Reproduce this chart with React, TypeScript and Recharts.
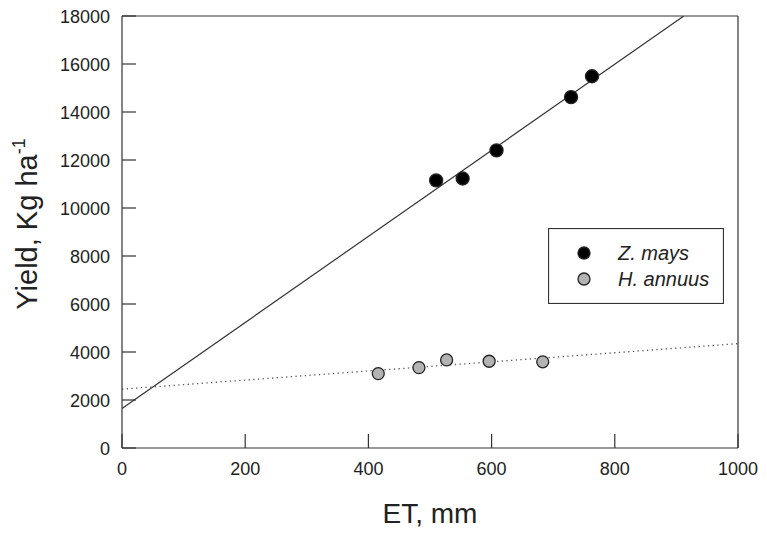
import {
  ComposedChart,
  Label,
  Legend,
  Line,
  ReferenceLine,
  Scatter,
  XAxis,
  YAxis,
} from 'recharts'

const FONT = '"Liberation Sans", Arial, sans-serif'
const INK = '#222'

const xTicks = [0, 200, 400, 600, 800, 1000]
const yTicks = [0, 2000, 4000, 6000, 8000, 10000, 12000, 14000, 16000, 18000]
const legendOrder = ['Z. mays', 'H. annuus']

// Z. mays
const maize = [
  { x: 510, y: 11150 },
  { x: 553, y: 11230 },
  { x: 608, y: 12400 },
  { x: 729, y: 14620 },
  { x: 763, y: 15490 },
]
// H. annuus
const sunflower = [
  { x: 416, y: 3100 },
  { x: 482, y: 3350 },
  { x: 527, y: 3670 },
  { x: 596, y: 3615 },
  { x: 683, y: 3590 },
]
// fitted lines, end points
const maizeFit = [
  { x: 0, y: 1645 },
  { x: 912, y: 18000 },
]
const sunflowerFit = [
  { x: 0, y: 2450 },
  { x: 1000, y: 4350 },
]

// ticks point inward (negative tickSize); labels drawn here
const XTick = ({ x, y, payload }: any) => (
  <text x={x} y={y + 6.5} textAnchor="middle" fontSize={18} fontFamily={FONT} fill={INK}>
    {payload.value}
  </text>
)

const YTick = ({ x, y, payload }: any) => (
  <text x={x} y={y + 6.5} textAnchor="end" fontSize={18} fontFamily={FONT} fill={INK}>
    {payload.value}
  </text>
)

const Dot = ({ cx, cy, fill }: any) => (
  <circle cx={cx} cy={cy} r={fill === '#000' ? 6.5 : 6} fill={fill} stroke="#222" strokeWidth={1.3} />
)

const LegendBox = ({ payload }: any) => {
  const items = (payload || [])
    .filter((p: any) => legendOrder.includes(p.value))
    .sort((a: any, b: any) => legendOrder.indexOf(a.value) - legendOrder.indexOf(b.value))
  return (
    <svg width={176} height={76} style={{ display: 'block' }}>
      <rect x={0.5} y={0.5} width={175} height={75} fill="#fff" stroke="#333" strokeWidth={1.2} />
      {items.map((p: any, i: number) => (
        <g key={p.value}>
          <circle cx={36} cy={25 + i * 26} r={6} fill={p.color} stroke="#222" strokeWidth={1.3} />
          <text
            x={70}
            y={32 + i * 26}
            fontSize={20}
            fontStyle="italic"
            fontFamily={FONT}
            fill={INK}
          >
            {p.value}
          </text>
        </g>
      ))}
    </svg>
  )
}

export default function App() {
  return (
    <div style={{ position: 'absolute', left: 0, top: 0, width: 767, height: 535, background: '#fff' }}>
      <ComposedChart width={767} height={535} margin={{ top: 16, right: 29, bottom: 0, left: 0 }}>
        <XAxis
          type="number"
          dataKey="x"
          domain={[0, 1000]}
          ticks={xTicks}
          height={87}
          tickSize={-14}
          tickMargin={34}
          tick={XTick}
          tickLine={{ stroke: '#333', strokeWidth: 1.2 }}
          stroke="#333"
          strokeWidth={1.2}
          allowDataOverflow
        >
          <Label
            content={({ viewBox }: any) => (
              <text
                x={viewBox.x + viewBox.width / 2}
                y={viewBox.y + 75}
                textAnchor="middle"
                fontSize={28}
                fontFamily={FONT}
                fill={INK}
              >
                ET, mm
              </text>
            )}
          />
        </XAxis>
        <YAxis
          type="number"
          dataKey="y"
          domain={[0, 18000]}
          ticks={yTicks}
          width={122}
          tickSize={-14}
          tickMargin={26}
          tick={YTick}
          tickLine={{ stroke: '#333', strokeWidth: 1.2 }}
          stroke="#333"
          strokeWidth={1.2}
          allowDataOverflow
        >
          <Label
            content={({ viewBox }: any) => {
              const cx = 37
              const cy = viewBox.y + viewBox.height / 2 - 8
              return (
                <text
                  x={cx}
                  y={cy}
                  transform={`rotate(-90 ${cx} ${cy})`}
                  textAnchor="middle"
                  fontSize={29}
                  fontFamily={FONT}
                  fill={INK}
                >
                  Yield, Kg ha
                  <tspan fontSize={18} dy={-12}>
                    -1
                  </tspan>
                </text>
              )
            }}
          />
        </YAxis>
        <ReferenceLine y={18000} stroke="#333" strokeWidth={1.2} />
        <ReferenceLine x={1000} stroke="#333" strokeWidth={1.2} />
        <Line
          data={maizeFit}
          dataKey="y"
          type="linear"
          dot={false}
          activeDot={false}
          stroke="#333"
          strokeWidth={1.2}
          legendType="none"
          isAnimationActive={false}
        />
        <Line
          data={sunflowerFit}
          dataKey="y"
          type="linear"
          dot={false}
          activeDot={false}
          stroke="#555"
          strokeWidth={1.3}
          strokeDasharray="1.3 3.4"
          legendType="none"
          isAnimationActive={false}
        />
        <Scatter name="Z. mays" data={maize} fill="#000" shape={Dot} isAnimationActive={false} />
        <Scatter name="H. annuus" data={sunflower} fill="#b3b3b3" shape={Dot} isAnimationActive={false} />
        <Legend
          layout="horizontal"
          verticalAlign="middle"
          align="center"
          content={LegendBox}
          wrapperStyle={{ position: 'absolute', left: 548, top: 228, width: 176, height: 76 }}
        />
      </ComposedChart>
    </div>
  )
}
